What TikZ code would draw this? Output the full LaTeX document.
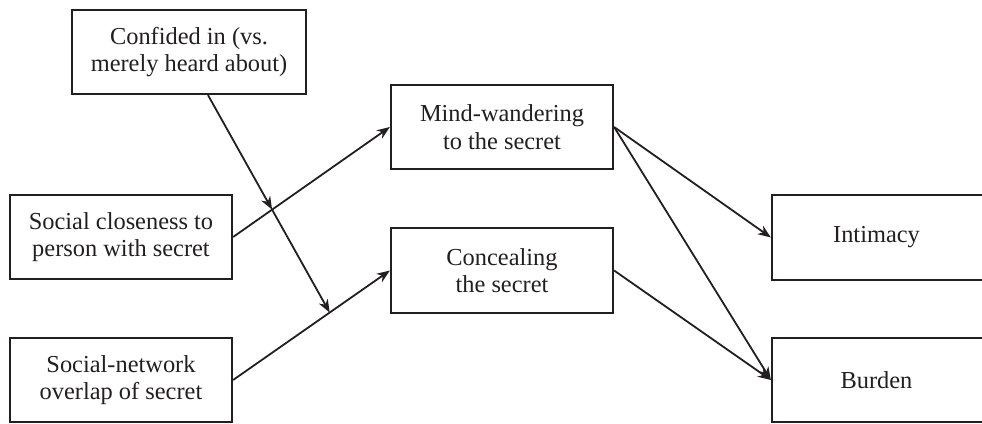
\documentclass[tikz,border=0pt]{standalone}
\usepackage{fontspec}
\setmainfont{Liberation Serif}
\usetikzlibrary{arrows.meta,intersections,calc}
\definecolor{ink}{RGB}{35,31,32}
\begin{document}
\begin{tikzpicture}[x=1pt,y=-1pt,
  box/.style={draw=ink, line width=2.2pt, inner sep=0pt, align=center,
    font=\fontsize{24.4}{27.5}\selectfont, text=ink},
  lbl/.style={font=\fontsize{24.4}{27.5}\selectfont, text=ink},
  arr/.style={line width=1.8pt, draw=ink, fill=ink,
    -{Stealth[length=13pt,width=10pt,inset=4pt]}}]
\useasboundingbox (0,0) rectangle (982,423);
\clip (0,0) rectangle (982,423);
\node[box, minimum width=234pt, minimum height=84pt] (conf) at (189,52) {Confided in (vs.\\merely heard about)};
\node[box, minimum width=222pt, minimum height=84pt] (close) at (121,237) {Social closeness to\\person with secret};
\node[box, minimum width=222pt, minimum height=84pt] (sn) at (121,380) {Social-network\\overlap of secret};
\node[box, minimum width=222pt, minimum height=84pt] (mw) at (502,127) {Mind-wandering\\to the secret};
\node[box, minimum width=222pt, minimum height=85pt] (conc) at (502,270.5) {Concealing\\the secret};
\node[box, minimum width=218pt, minimum height=85pt] (int) at (881,237.5) {};
\node[lbl] (intl) at (876.5,237.5) {Intimacy};
\node[box, minimum width=218pt, minimum height=84pt] (bur) at (881,380) {};
\node[lbl] (burl) at (876.5,380) {Burden};
\draw[arr] (close.east) -- (mw.west);
\draw[arr] (sn.east) -- (conc.west);
\draw[arr] (mw.east) -- (int.west);
\draw[arr] (mw.east) -- (bur.west);
\draw[arr] (conc.east) -- (bur.west);
\coordinate (cs) at ($(conf.south)+(19,0)$);
\coordinate (ce) at ($(sn.east)!0.616!(conc.west)$);
\path[name path=p1] (close.east) -- (mw.west);
\path[name path=p2] (cs) -- (ce);
\path[name intersections={of=p1 and p2,by=ix}];
\draw[arr] (cs) -- (ix);
\draw[arr] (ix) -- (ce);
\end{tikzpicture}
\end{document}
